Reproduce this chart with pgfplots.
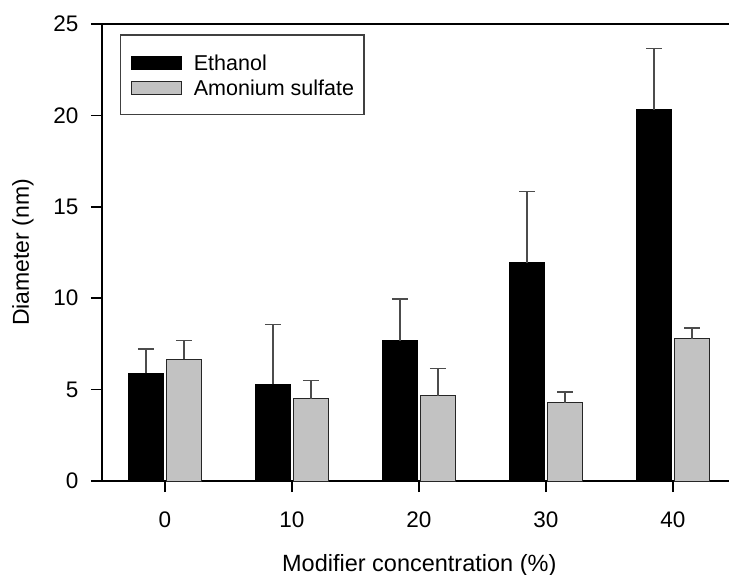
\documentclass[border=0pt]{standalone}
\usepackage{pgfplots}
\usepackage{pgfplotstable}
\pgfplotsset{compat=1.18}
\usepackage{fontspec}
\setmainfont{Liberation Sans}

\definecolor{barfill}{gray}{0.76}
\definecolor{errcol}{gray}{0.30}

% mean particle diameter (nm) and upper deviation for each modifier level
\pgfplotstableread{
idx eth   etherr amm   ammerr
0   5.89  1.33   6.66  1.01
1   5.29  3.26   4.49  1.00
2   7.67  2.29   4.67  1.50
3   11.94 3.91   4.27  0.60
4   20.30 3.37   7.77  0.60
}\diam

\begin{document}
\begin{tikzpicture}
\useasboundingbox (-51pt,-46.5pt) rectangle (313.5pt,240.5pt);
\begin{axis}[
  name=main,
  at={(0,0)}, anchor=south west,
  scale only axis, width=317.25pt, height=228.5pt,
  xmin=-0.496, xmax=4.5, ymin=0, ymax=25,
  ybar=1.5pt, bar width=17.5pt,
  xtick={0,1,2,3,4}, xticklabels={0,10,20,30,40},
  ytick={0,5,10,15,20,25},
  tick align=outside, tick pos=left,
  major tick length=5.5pt,
  tick style={line width=0.75pt, black},
  axis line style={line width=0.75pt, black},
  font=\fontsize{11.25}{13.5}\selectfont,
  /pgf/number format/assume math mode=true,
  yticklabel style={xshift=-2.75pt},
  xticklabel style={yshift=-6.6pt},
  xlabel={Modifier concentration (\%)},
  xlabel style={at={(axis description cs:0.5,0)}, anchor=base, yshift=-45.35pt,
    font=\fontsize{11.75}{14}\selectfont},
  ylabel={Diameter (nm)},
  ylabel style={at={([xshift=-36.5pt]axis description cs:0,0.5)}, anchor=base,
    font=\fontsize{11.5}{14}\selectfont},
  legend cell align=left,
  legend style={at={(0,1)}, anchor=north west, xshift=9pt, yshift=-5.15pt,
    draw=black!75, line width=0.6pt, inner xsep=5pt, inner ysep=9.75pt,
    row sep=4.65pt,
    nodes={inner sep=0pt, text height=7.85pt, text depth=0pt,
      font=\fontsize{10.75}{13}\selectfont},
    /tikz/every odd column/.append style={column sep=6.15pt}},
]
\addplot[fill=black, draw=black, line width=0.5pt,
  legend image code/.code={\draw[fill=black, draw=black, line width=0.5pt] (0pt,-3.73pt) rectangle (25pt,2.77pt);},
  error bars/.cd, y dir=plus, y explicit,
  error bar style={errcol, line width=0.6pt},
  error mark options={rotate=90, errcol, line width=0.6pt, mark size=4pt}]
  table[x=idx, y=eth, y error=etherr] {\diam};
\addlegendentry{Ethanol}
\addplot[fill=barfill, draw=black!85, line width=0.5pt,
  legend image code/.code={\draw[fill=barfill, draw=black!85, line width=0.5pt] (0pt,-3.73pt) rectangle (25pt,2.77pt);},
  error bars/.cd, y dir=plus, y explicit,
  error bar style={errcol, line width=0.6pt},
  error mark options={rotate=90, errcol, line width=0.6pt, mark size=4pt}]
  table[x=idx, y=amm, y error=ammerr] {\diam};
\addlegendentry{Amonium sulfate}
\end{axis}
% upper frame line of the plot area
\draw[line width=0.75pt, black] (main.north west) -- (main.north east);
\end{tikzpicture}
\end{document}
